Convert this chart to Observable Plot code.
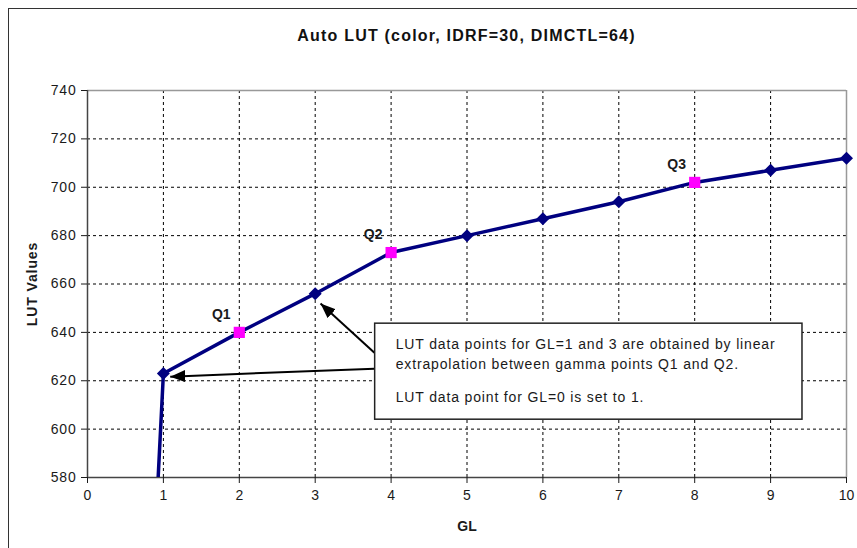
<!DOCTYPE html>
<html>
<head>
<meta charset="utf-8">
<script src="https://cdn.jsdelivr.net/npm/d3@7"></script>
<script src="https://cdn.jsdelivr.net/npm/@observablehq/plot@0.6"></script>
<style>
  html, body { margin: 0; padding: 0; background: #fff; }
  #wrap { position: relative; width: 857px; height: 548px; overflow: hidden; font-family: "Liberation Sans", Arial, sans-serif; background: #fff; }
  #frame { position: absolute; left: 8px; top: 8px; width: 900px; height: 600px; border-left: 1.5px solid #333; border-top: 1.5px solid #333; }
  #title { position: absolute; left: 87px; width: 759px; top: 27px; text-align: center; font-weight: bold; font-size: 16px; letter-spacing: 1.2px; color: #111; }
  #chart { position: absolute; left: 0; top: 60px; }
  #chart svg { background: transparent !important; }
</style>
</head>
<body>
<div id="wrap">
  <div id="frame"></div>
  <div id="title">Auto LUT (color, IDRF=30, DIMCTL=64)</div>
  <div id="chart"></div>
</div>
<script>
// ---- data ----
const gl = [0, 1, 2, 3, 4, 5, 6, 7, 8, 9, 10];
const lut = [1, 623, 640, 656, 673, 680, 687, 694, 702, 707, 712];
const gammaGL = [2, 4, 8];
const gammaNames = ["Q1", "Q2", "Q3"];
const xTicks = [0, 1, 2, 3, 4, 5, 6, 7, 8, 9, 10];
const yTicks = [580, 600, 620, 640, 660, 680, 700, 720, 740];
// annotation anchors (data units)
const arrowFrom = [[3.78, 631.6], [3.78, 625.0]];
const arrowTo = [[3.07, 651.9], [1.09, 621.7]];
const noteBox = [3.79, 9.42, 603.9, 643.6];
const noteLines1 = ["LUT data points for GL=1 and 3 are obtained by linear", "extrapolation between gamma points Q1 and Q2."];
const noteLines2 = ["LUT data point for GL=0 is set to 1."];
const notePos1 = [4.06, 639.0];
const notePos2 = [4.06, 615.5];

// ---- derived tables ----
const pts = gl.map((g, i) => ({gl: g, lut: lut[i]}));
const gammaPts = gammaGL.map((g, i) => ({gl: g, lut: lut[gl.indexOf(g)], name: gammaNames[i]}));
const diamondPts = pts.filter(d => d.gl !== 0 && !gammaGL.includes(d.gl));
const arrows = arrowFrom.map((f, i) => ({x1: f[0], y1: f[1], x2: arrowTo[i][0], y2: arrowTo[i][1]}));

const diamond = {draw(ctx, size) { const h = Math.sqrt(size / Math.PI); ctx.moveTo(0, -h); ctx.lineTo(h, 0); ctx.lineTo(0, h); ctx.lineTo(-h, 0); ctx.closePath(); }};
const square = {draw(ctx, size) { const h = Math.sqrt(size / Math.PI); ctx.rect(-h, -h, 2 * h, 2 * h); }};

function filledArrow(color, context) {
  const m = d3.create("svg:marker")
    .attr("viewBox", "-15 -6 15 12")
    .attr("markerWidth", 15).attr("markerHeight", 12)
    .attr("markerUnits", "userSpaceOnUse")
    .attr("orient", "auto")
    .attr("fill", "black").attr("stroke", "none");
  m.append("path").attr("d", "M-15,-6L0,0L-15,6Z");
  return m.node();
}

const font = "\"Liberation Sans\", Arial, sans-serif";

const chart = Plot.plot({
  width: 857,
  height: 488,
  marginTop: 30,
  marginBottom: 71,
  marginLeft: 87,
  marginRight: 11,
  style: {fontFamily: font, fontSize: "14px", color: "#1a1a1a", background: "transparent"},
  x: {domain: [0, 10]},
  y: {domain: [580, 740]},
  marks: [
    Plot.ruleX(xTicks.filter(t => t > 0 && t < 10), {stroke: "#000", strokeDasharray: "3,3", strokeWidth: 1}),
    Plot.ruleY(yTicks.filter(t => t > 580 && t < 740), {stroke: "#000", strokeDasharray: "3,3", strokeWidth: 1}),
    Plot.ruleY([740], {stroke: "#999", strokeWidth: 1.5}),
    Plot.ruleX([10], {stroke: "#999", strokeWidth: 1.5}),
    Plot.ruleX([0], {stroke: "#444", strokeWidth: 1.5}),
    Plot.ruleY([580], {stroke: "#444", strokeWidth: 1.5}),
    Plot.axisX({ticks: xTicks, tickSize: 6, tickPadding: 7, label: null, tickFormat: d => String(d)}),
    Plot.axisY({ticks: yTicks, tickSize: 6, tickPadding: 5, label: null, tickFormat: d => String(d)}),
    Plot.line(pts, {x: "gl", y: "lut", stroke: "#000080", strokeWidth: 3.5, clip: true}),
    Plot.dot(diamondPts, {x: "gl", y: "lut", symbol: diamond, r: 6.5, fill: "#000080", stroke: "none"}),
    Plot.dot(gammaPts, {x: "gl", y: "lut", symbol: square, r: 5.6, fill: "#ff00ff", stroke: "none"}),
    Plot.text(gammaPts, {x: "gl", y: "lut", text: "name", dx: -18, dy: -18, fontWeight: "bold", fontSize: 14, fill: "#1a1a1a"}),
    Plot.link(arrows, {x1: "x1", y1: "y1", x2: "x2", y2: "y2", stroke: "black", strokeWidth: 2, markerEnd: filledArrow}),
    Plot.rect([noteBox], {x1: d => d[0], x2: d => d[1], y1: d => d[2], y2: d => d[3], fill: "white", stroke: "#222", strokeWidth: 1.5}),
    Plot.text([noteLines1.join("\n")], {x: () => notePos1[0], y: () => notePos1[1], text: d => d, textAnchor: "start", lineAnchor: "top", lineHeight: 1.43, fontSize: 14, fill: "#1a1a1a"}),
    Plot.text([noteLines2.join("\n")], {x: () => notePos2[0], y: () => notePos2[1], text: d => d, textAnchor: "start", lineAnchor: "top", fontSize: 14, fill: "#1a1a1a"}),
    Plot.text(["LUT Values"], {frameAnchor: "left", dx: -55, rotate: -90, textAnchor: "middle", lineAnchor: "middle", text: d => d, fontWeight: "bold", fontSize: 14, fill: "#1a1a1a"}),
    Plot.text(["GL"], {frameAnchor: "bottom", dy: 49, textAnchor: "middle", lineAnchor: "middle", text: d => d, fontWeight: "bold", fontSize: 14, fill: "#1a1a1a"})
  ]
});
const svg = d3.select(chart);
svg.selectAll("text").each(function() {
  const t = this.textContent;
  if (t.startsWith("LUT data") || t.startsWith("extrapolation")) d3.select(this).style("letter-spacing", "0.85px");
  else if (t === "LUT Values") d3.select(this).style("letter-spacing", "0.9px");
  else if (/^\d+$/.test(t) && +t >= 580) d3.select(this).style("letter-spacing", "0.8px");
});
document.getElementById("chart").appendChild(chart);
</script>
</body>
</html>
